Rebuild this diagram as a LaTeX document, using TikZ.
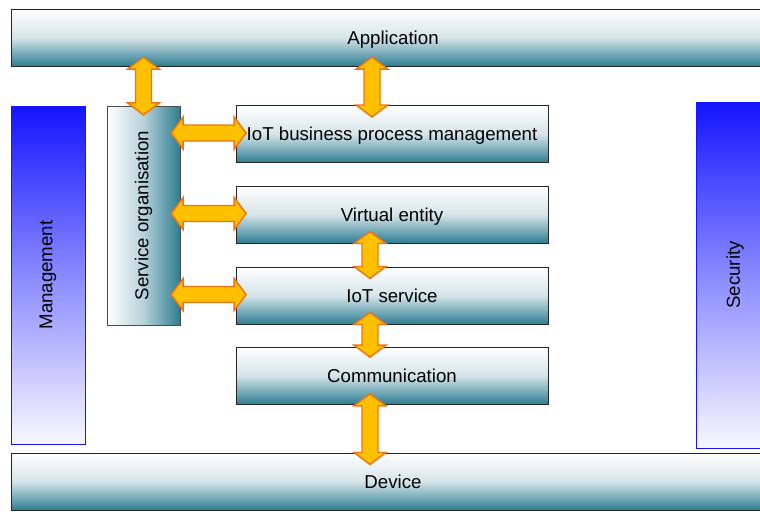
\documentclass[tikz,border=0pt]{standalone}
\usepackage{fontspec}
\setmainfont{Liberation Sans}
\usetikzlibrary{calc}

\definecolor{capa}{RGB}{46,125,146}
\definecolor{azul}{RGB}{20,20,255}
\definecolor{flechafondo}{RGB}{255,192,0}
\definecolor{flechaborde}{RGB}{238,118,18}

% medidas de las flechas
\newcommand{\pl}{9pt}
\newcommand{\pa}{12pt}
\newcommand{\ca}{6pt}

% flecha doble de bloque entre dos puntos
\newcommand{\flecha}[2]{%
	\path[flecha] let \p1=#1, \p2=#2,
		\n1={atan2(\y2-\y1,\x2-\x1)}, \n2={veclen(\x2-\x1,\y2-\y1)} in
		[shift={(\p1)}, rotate=\n1]
		(0,0) -- (\pl,\pa) -- (\pl,\ca) -- ({\n2*1pt-\pl},\ca) -- ({\n2*1pt-\pl},\pa) -- ({\n2*1pt},0)
		-- ({\n2*1pt-\pl},-\pa) -- ({\n2*1pt-\pl},-\ca) -- (\pl,-\ca) -- (\pl,-\pa) -- cycle;}

\tikzset{
	texto/.style={font=\fontsize{14}{16}\selectfont, inner sep=0pt, text depth=0pt},
	capa/.style={texto, draw=black!85, line width=0.75pt, top color=white, bottom color=capa, middle color=capa!20,
		minimum width=234pt, minimum height=42.75pt},
	lateral/.style={texto, draw=black!70, line width=0.75pt, left color=white, right color=capa, middle color=capa!35},
	vertical/.style={texto, draw=azul, line width=0.75pt, top color=azul, bottom color=azul!3, middle color=azul!50},
	flecha/.style={fill=flechafondo, draw=flechaborde, line width=1.1pt, line join=miter}
}

\begin{document}
\begin{tikzpicture}[x=0.75pt, y=-0.75pt]
	\useasboundingbox (0,0) rectangle (760,511);

% capas horizontales
	\node[capa, minimum width=573pt] (app) at (393,37.5) {Application};
	\node[capa, minimum width=573pt] (dev) at (393,481.5) {Device};
	\node[capa] (bpm) at (392,134) {IoT business process management};
	\node[capa] (ve) at (392,214.5) {Virtual entity};
	\node[capa] (iots) at (392,295.5) {IoT service};
	\node[capa] (comm) at (392,375.5) {Communication};

% bloques verticales
	\node[lateral, minimum width=54.75pt, minimum height=164.25pt] (so) at (143.5,215.5) {\rotatebox{90}{Service organisation}};
	\node[vertical, minimum width=55.5pt, minimum height=253.5pt] (man) at (48,275) {\rotatebox{90}{Management}};
	\node[vertical, minimum width=58.5pt, minimum height=259.5pt] (sec) at (735,275) {\rotatebox{90}{Security}};

% flechas verticales
	\flecha{($(app.south -| so.north)+(0,7pt)$)}{($(so.north)+(0,-7pt)$)}
	\flecha{($(app.south -| bpm.north)+(-15pt,7pt)$)}{($(bpm.north)+(-15pt,-9pt)$)}
	\flecha{($(ve.south)+(-16.5pt,9pt)$)}{($(iots.north)+(-16.5pt,-9pt)$)}
	\flecha{($(iots.south)+(-16.5pt,9pt)$)}{($(comm.north)+(-16.5pt,-8pt)$)}
	\flecha{($(comm.south)+(-16.5pt,8pt)$)}{($(dev.north -| comm.south)+(-16.5pt,-9pt)$)}

% flechas horizontales
	\foreach \nodo in {bpm, ve, iots}
		\flecha{($(so.east |- \nodo.west)+(-7pt,0.75pt)$)}{($(\nodo.west)+(8pt,0.75pt)$)};
\end{tikzpicture}
\end{document}
